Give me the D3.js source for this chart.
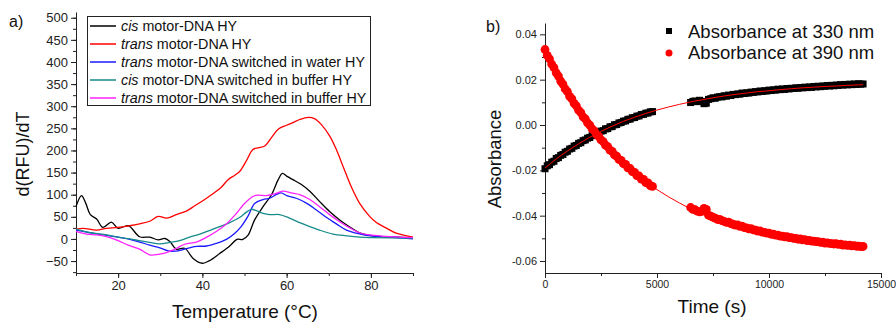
<!DOCTYPE html>
<html>
<head>
<meta charset="utf-8">
<script src="https://cdn.jsdelivr.net/npm/d3@7"></script>
<style>
  html, body { margin: 0; padding: 0; background: #fff; }
  svg { display: block; font-family: "Liberation Sans", Arial, sans-serif; }
</style>
</head>
<body>
<div id="chart"></div>
<script>
/* ── Panel a: melting curves, d(RFU)/dT vs temperature ── */
const meltSeries = [
  { key: "cisHY", pre: "cis", label: " motor-DNA HY", color: "#000000" },
  { key: "transHY", pre: "trans", label: " motor-DNA HY", color: "#ff0000" },
  { key: "transWater", pre: "trans", label: " motor-DNA switched in water HY", color: "#1a1aff" },
  { key: "cisBuffer", pre: "cis", label: " motor-DNA switched in buffer HY", color: "#178a8a" },
  { key: "transBuffer", pre: "trans", label: " motor-DNA switched in buffer HY", color: "#ff22ff" },
];

const tempCis = [10, 11.3, 12.3, 13.4, 14.9, 16.4, 18.4, 20, 22.4, 25.1, 27.5, 29.5, 31.1, 32.3, 33.8, 35.8, 37.8, 40, 41.7, 44.1, 46.5, 48.2, 49.6, 50.8, 52.4, 54.4, 56.4, 58, 59, 60, 61.5, 63.5, 65.5, 67.8, 70.2, 72.6, 75, 77.3, 79.7, 82.8, 86.8, 90];
const valCis = [73, 98, 81, 55, 45, 26, 38, 24, 30, 5, 4, -2, 1, -6, -23, -21, -44, -55, -49, -33, -16, -1, -1, 8, 43, 73, 100, 134, 148, 142, 134, 123, 108, 85, 62, 43, 27, 14, 8, 5, 4, 2];

const tempTrans = [10, 11.7, 14.9, 17.2, 20, 22.8, 25.1, 27.5, 29.5, 31.5, 33.8, 36.2, 38.2, 40.2, 42.5, 44.5, 46.1, 47.7, 48.9, 50.4, 52, 53.2, 54.8, 56.4, 58, 60, 61.5, 63.1, 65.1, 66.6, 68.2, 70.2, 71.8, 73.4, 75.3, 77.3, 79.7, 81.3, 83.6, 86, 88, 90];
const valTrans = [22, 24, 20, 24, 26, 30, 34, 40, 51, 47, 55, 63, 75, 87, 102, 117, 134, 144, 153, 176, 202, 206, 210, 229, 248, 257, 263, 270, 275, 272, 259, 233, 202, 164, 119, 81, 51, 37, 25, 13, 8, 4];

const tempWater = [10, 13.4, 16.6, 20, 22.8, 25.1, 27.5, 29.9, 31.9, 34.2, 36.2, 38.6, 41, 43.3, 45.7, 47.7, 49.2, 50.8, 52.4, 54.4, 56, 57.5, 58.7, 60, 62.3, 64.7, 67, 69.4, 71.8, 74.2, 76.5, 78.9, 82.8, 90];
const valWater = [20, 14, 9, 4, -1, -7, -14, -20, -27, -27, -22, -17, -16, -10, -1, 13, 28, 51, 80, 89, 92, 100, 104, 98, 92, 81, 66, 49, 34, 20, 13, 8, 5, 0];

const tempBuffer = [10, 13.4, 16.6, 20, 22.8, 25.1, 27.5, 29.9, 32.3, 34.6, 37, 39.4, 41.7, 44.1, 46.5, 48.9, 50.4, 51.6, 52.8, 54.4, 56, 58.3, 60.7, 63.1, 65.5, 67.8, 71, 74.2, 77.3, 80.5, 90];
const valBuffer = [22, 14, 10, 4, 0, -4, -8, -11, -8, -4, 4, 11, 19, 28, 37, 49, 60, 67, 64, 58, 55, 55, 47, 37, 28, 20, 11, 7, 4, 3, 2];

const tempTransBuf = [10, 12.5, 14.9, 17.2, 20, 22.4, 25.1, 27.5, 29.5, 31.5, 33.5, 35.8, 38.6, 41, 43.3, 45.7, 48.1, 50, 52, 53.2, 55.2, 57.2, 59.1, 61.1, 63.1, 65.5, 67.8, 70.2, 72.6, 75, 77.3, 79.7, 83.6, 90];
const valTransBuf = [17, 11, 9, 5, -4, -14, -23, -36, -35, -31, -23, -12, -7, 4, 17, 34, 58, 80, 96, 99, 98, 102, 108, 104, 100, 89, 73, 55, 39, 25, 14, 9, 6, 3];

const meltTemps = { cisHY: tempCis, transHY: tempTrans, transWater: tempWater, cisBuffer: tempBuffer, transBuffer: tempTransBuf };
const meltVals = { cisHY: valCis, transHY: valTrans, transWater: valWater, cisBuffer: valBuffer, transBuffer: valTransBuf };

const aXTicks = [20, 40, 60, 80];
const aYTicks = [-50, 0, 50, 100, 150, 200, 250, 300, 350, 400, 450, 500];

/* ── Panel b: absorbance kinetics, [time (s), absorbance] ── */
const pts330 = [
  [0, -0.0193], [100, -0.0180], [200, -0.0175], [300, -0.0164], [400, -0.0160], [500, -0.0148], [600, -0.0144], [700, -0.0134], [800, -0.0130], [900, -0.0120],
  [1000, -0.0116], [1100, -0.0106], [1200, -0.0103], [1300, -0.0093], [1400, -0.0090], [1500, -0.0081], [1600, -0.0078], [1700, -0.0069], [1800, -0.0066], [1900, -0.0058],
  [2000, -0.0055], [2100, -0.0047], [2200, -0.0045], [2300, -0.0037], [2400, -0.0035], [2500, -0.0027], [2600, -0.0025], [2700, -0.0017], [2800, -0.0016], [2900, -0.0008],
  [3000, -0.0007], [3100, 0.0001], [3200, 0.0002], [3300, 0.0009], [3400, 0.0011], [3500, 0.0017], [3600, 0.0018], [3700, 0.0025], [3800, 0.0026], [3900, 0.0032],
  [4000, 0.0033], [4100, 0.0039], [4200, 0.0040], [4300, 0.0046], [4400, 0.0047], [4500, 0.0052], [4600, 0.0053], [4700, 0.0058], [4800, 0.0059],
  [6500, 0.0099], [6600, 0.0104], [6700, 0.0106], [6800, 0.0103], [6900, 0.0109], [7000, 0.0104], [7100, 0.0094], [7200, 0.0096], [7300, 0.0113], [7400, 0.0116],
  [7500, 0.0120], [7600, 0.0118], [7700, 0.0123], [7800, 0.0125], [7900, 0.0124], [8000, 0.0129], [8100, 0.0127], [8200, 0.0132], [8300, 0.0130], [8400, 0.0135],
  [8500, 0.0134], [8600, 0.0137], [8700, 0.0136], [8800, 0.0141], [8900, 0.0139], [9000, 0.0142], [9100, 0.0141], [9200, 0.0145], [9300, 0.0144], [9400, 0.0147],
  [9500, 0.0146], [9600, 0.0150], [9700, 0.0148], [9800, 0.0151], [9900, 0.0150], [10000, 0.0154], [10100, 0.0152], [10200, 0.0155], [10300, 0.0154], [10400, 0.0158],
  [10500, 0.0156], [10600, 0.0159], [10700, 0.0157], [10800, 0.0161], [10900, 0.0159], [11000, 0.0162], [11100, 0.0161], [11200, 0.0164], [11300, 0.0162], [11400, 0.0165],
  [11500, 0.0164], [11600, 0.0167], [11700, 0.0165], [11800, 0.0168], [11900, 0.0166], [12000, 0.0170], [12100, 0.0168], [12200, 0.0171], [12300, 0.0169], [12400, 0.0172],
  [12500, 0.0171], [12600, 0.0174], [12700, 0.0172], [12800, 0.0175], [12900, 0.0173], [13000, 0.0176], [13100, 0.0175], [13200, 0.0178], [13300, 0.0176], [13400, 0.0179],
  [13500, 0.0177], [13600, 0.0180], [13700, 0.0178], [13800, 0.0181], [13900, 0.0179], [14000, 0.0182], [14100, 0.0180], [14200, 0.0181],
];
const pts390 = [
  [0, 0.0333], [100, 0.0307], [200, 0.0292], [300, 0.0268], [400, 0.0253], [500, 0.0230], [600, 0.0216], [700, 0.0194], [800, 0.0180], [900, 0.0159],
  [1000, 0.0147], [1100, 0.0126], [1200, 0.0115], [1300, 0.0095], [1400, 0.0084], [1500, 0.0065], [1600, 0.0055], [1700, 0.0036], [1800, 0.0027], [1900, 0.0009],
  [2000, -0.0001], [2100, -0.0017], [2200, -0.0026], [2300, -0.0042], [2400, -0.0050], [2500, -0.0066], [2600, -0.0073], [2700, -0.0089], [2800, -0.0095], [2900, -0.0111],
  [3000, -0.0116], [3100, -0.0132], [3200, -0.0137], [3300, -0.0152], [3400, -0.0156], [3500, -0.0171], [3600, -0.0174], [3700, -0.0189], [3800, -0.0192], [3900, -0.0206],
  [4000, -0.0209], [4100, -0.0223], [4200, -0.0225], [4300, -0.0239], [4400, -0.0240], [4500, -0.0254], [4600, -0.0255], [4700, -0.0268], [4800, -0.0271],
  [6500, -0.0364], [6600, -0.0372], [6700, -0.0374], [6800, -0.0380], [6900, -0.0383], [7000, -0.0381], [7100, -0.0368], [7200, -0.0372], [7300, -0.0398], [7400, -0.0402],
  [7500, -0.0407], [7600, -0.0411], [7700, -0.0417], [7800, -0.0416], [7900, -0.0422], [8000, -0.0425], [8100, -0.0430], [8200, -0.0429], [8300, -0.0435], [8400, -0.0438],
  [8500, -0.0442], [8600, -0.0441], [8700, -0.0447], [8800, -0.0446], [8900, -0.0453], [9000, -0.0454], [9100, -0.0458], [9200, -0.0457], [9300, -0.0463], [9400, -0.0464],
  [9500, -0.0468], [9600, -0.0467], [9700, -0.0473], [9800, -0.0474], [9900, -0.0477], [10000, -0.0477], [10100, -0.0482], [10200, -0.0482], [10300, -0.0486], [10400, -0.0486],
  [10500, -0.0490], [10600, -0.0490], [10700, -0.0494], [10800, -0.0493], [10900, -0.0497], [11000, -0.0497], [11100, -0.0500], [11200, -0.0500], [11300, -0.0504], [11400, -0.0503],
  [11500, -0.0507], [11600, -0.0506], [11700, -0.0510], [11800, -0.0509], [11900, -0.0512], [12000, -0.0512], [12100, -0.0515], [12200, -0.0515], [12300, -0.0518], [12400, -0.0517],
  [12500, -0.0521], [12600, -0.0520], [12700, -0.0522], [12800, -0.0523], [12900, -0.0525], [13000, -0.0524], [13100, -0.0527], [13200, -0.0526], [13300, -0.0530], [13400, -0.0529],
  [13500, -0.0531], [13600, -0.0530], [13700, -0.0533], [13800, -0.0532], [13900, -0.0535], [14000, -0.0534], [14100, -0.0537], [14200, -0.0536],
];

const fitTime = [0, 500, 1000, 1500, 2000, 2500, 3000, 3500, 4000, 4500, 5000, 5500, 6000, 6500, 7000, 7500, 8000, 8500, 9000, 9500, 10000, 10500, 11000, 11500, 12000, 12500, 13000, 13500, 14000, 14200];
const fit330 = [-0.0190, -0.0150, -0.0115, -0.0083, -0.0054, -0.0028, -0.0005, 0.0016, 0.0034, 0.0051, 0.0066, 0.0079, 0.0091, 0.0102, 0.0111, 0.0120, 0.0128, 0.0135, 0.0141, 0.0147, 0.0151, 0.0156, 0.0160, 0.0164, 0.0167, 0.0170, 0.0172, 0.0175, 0.0177, 0.0178];
const fit390 = [0.0330, 0.0232, 0.0145, 0.0067, -0.0002, -0.0064, -0.0119, -0.0168, -0.0212, -0.0251, -0.0285, -0.0316, -0.0344, -0.0369, -0.0390, -0.0410, -0.0427, -0.0443, -0.0457, -0.0469, -0.0480, -0.0490, -0.0499, -0.0506, -0.0513, -0.0519, -0.0525, -0.0530, -0.0534, -0.0536];

const bXTicks = [0, 5000, 10000, 15000];
const bYTicks = [-0.06, -0.04, -0.02, 0, 0.02, 0.04];

const W = 896, H = 323;
const svg = d3.select("#chart").append("svg")
  .attr("width", W).attr("height", H)
  .attr("viewBox", `0 0 ${W} ${H}`);
svg.append("rect").attr("width", W).attr("height", H).attr("fill", "#fff");

/* ── Panel a ── */
const ax = d3.scaleLinear().domain([10, 90]).range([76, 413]);
const ay = d3.scaleLinear().domain([-77, 513]).range([273, 12]);
const ga = svg.append("g");

// minor ticks
ga.append("g").attr("transform", "translate(0,273)")
  .call(d3.axisBottom(ax).tickValues(d3.range(10, 91, 10)).tickSize(3).tickFormat(""))
  .call(g => g.select(".domain").remove());
ga.append("g").attr("transform", "translate(76,0)")
  .call(d3.axisLeft(ay).tickValues(d3.range(-75, 501, 25)).tickSize(3).tickFormat(""))
  .call(g => g.select(".domain").remove());
// major ticks
ga.append("g").attr("transform", "translate(0,273)")
  .call(d3.axisBottom(ax).tickValues(aXTicks).tickSize(5).tickPadding(3).tickSizeOuter(0))
  .call(g => g.selectAll("text").attr("font-size", 13).attr("fill", "#222"));
ga.append("g").attr("transform", "translate(76,0)")
  .call(d3.axisLeft(ay).tickValues(aYTicks).tickSize(5).tickPadding(3).tickSizeOuter(0))
  .call(g => g.selectAll("text").attr("font-size", 13).attr("fill", "#222"));
ga.selectAll(".domain, .tick line").attr("stroke", "#222").attr("stroke-width", 1);
ga.selectAll("text").attr("font-family", "Liberation Sans, Arial, sans-serif");

const aLine = d3.line().curve(d3.curveCatmullRom.alpha(0.5));
ga.append("g").selectAll("path")
  .data(meltSeries)
  .enter().append("path")
  .attr("d", s => aLine(meltTemps[s.key].map((t, i) => [ax(t), ay(meltVals[s.key][i])])))
  .attr("fill", "none")
  .attr("stroke", s => s.color)
  .attr("stroke-width", 1.3);

// legend
const lg = ga.append("g");
lg.append("rect").attr("x", 87.5).attr("y", 16.5).attr("width", 283).attr("height", 89)
  .attr("fill", "#fff").attr("stroke", "#222").attr("stroke-width", 1);
meltSeries.forEach((s, i) => {
  const y = 26 + i * 18;
  lg.append("line").attr("x1", 90).attr("x2", 116).attr("y1", y).attr("y2", y)
    .attr("stroke", s.color).attr("stroke-width", 1.5);
  const t = lg.append("text").attr("x", 121).attr("y", y + 5).attr("font-size", 14.3).attr("fill", "#111");
  t.append("tspan").attr("font-style", "italic").text(s.pre);
  t.append("tspan").text(s.label);
});

ga.append("text").attr("x", 245).attr("y", 318).attr("text-anchor", "middle")
  .attr("font-size", 19).attr("fill", "#111").text("Temperature (°C)");
ga.append("text").attr("transform", "translate(29,154) rotate(-90)").attr("text-anchor", "middle")
  .attr("font-size", 18).attr("fill", "#111").text("d(RFU)/dT");
ga.append("text").attr("x", 9).attr("y", 27).attr("font-size", 16).attr("fill", "#111").text("a)");

/* ── Panel b ── */
const bx = d3.scaleLinear().domain([0, 15000]).range([545, 881]);
const by = d3.scaleLinear().domain([-0.0653, 0.045]).range([273, 23]);
const gb = svg.append("g");

gb.append("g").attr("transform", "translate(0,273)")
  .call(d3.axisBottom(bx).tickValues(d3.range(0, 15001, 2500)).tickSize(3).tickFormat(""))
  .call(g => g.select(".domain").remove());
gb.append("g").attr("transform", "translate(545,0)")
  .call(d3.axisLeft(by).tickValues([-0.05, -0.03, -0.01, 0.01, 0.03]).tickSize(3).tickFormat(""))
  .call(g => g.select(".domain").remove());
gb.append("g").attr("transform", "translate(0,273)")
  .call(d3.axisBottom(bx).tickValues(bXTicks).tickSize(5).tickPadding(3).tickSizeOuter(0).tickFormat(d3.format("d")))
  .call(g => g.selectAll("text").attr("font-size", 10.5).attr("fill", "#222"));
gb.append("g").attr("transform", "translate(545,0)")
  .call(d3.axisLeft(by).tickValues(bYTicks).tickSize(5).tickPadding(3).tickSizeOuter(0)
    .tickFormat(d => d3.format(".2f")(d).replace("−", "-")))
  .call(g => g.selectAll("text").attr("font-size", 11).attr("fill", "#222"));
gb.selectAll(".domain, .tick line").attr("stroke", "#222").attr("stroke-width", 1);
gb.selectAll("text").attr("font-family", "Liberation Sans, Arial, sans-serif");

// data markers
gb.append("g").selectAll("rect")
  .data(pts330)
  .enter().append("rect")
  .attr("x", d => bx(d[0]) - 3.5)
  .attr("y", d => by(d[1]) - 3.5)
  .attr("width", 7).attr("height", 7)
  .attr("fill", "#000");
gb.append("g").selectAll("circle")
  .data(pts390)
  .enter().append("circle")
  .attr("cx", d => bx(d[0]))
  .attr("cy", d => by(d[1]))
  .attr("r", 4.4)
  .attr("fill", "#ff0000");

// fit lines
const bLine = d3.line().curve(d3.curveMonotoneX);
[fit330, fit390].forEach(f => {
  gb.append("path")
    .attr("d", bLine(fitTime.map((t, i) => [bx(t), by(f[i])])))
    .attr("fill", "none").attr("stroke", "#ff0000").attr("stroke-width", 1);
});

// legend
gb.append("rect").attr("x", 666).attr("y", 28).attr("width", 6).attr("height", 6).attr("fill", "#000");
gb.append("circle").attr("cx", 669).attr("cy", 53).attr("r", 3.5).attr("fill", "#ff0000");
gb.append("text").attr("x", 688).attr("y", 38).attr("font-size", 18.5).attr("fill", "#111").text("Absorbance at 330 nm");
gb.append("text").attr("x", 688).attr("y", 59).attr("font-size", 18.5).attr("fill", "#111").text("Absorbance at 390 nm");

gb.append("text").attr("x", 712).attr("y", 313).attr("text-anchor", "middle")
  .attr("font-size", 19).attr("fill", "#111").text("Time (s)");
gb.append("text").attr("transform", "translate(501,159) rotate(-90)").attr("text-anchor", "middle")
  .attr("font-size", 18.5).attr("fill", "#111").text("Absorbance");
gb.append("text").attr("x", 486).attr("y", 32).attr("font-size", 16).attr("fill", "#111").text("b)");
</script>
</body>
</html>
